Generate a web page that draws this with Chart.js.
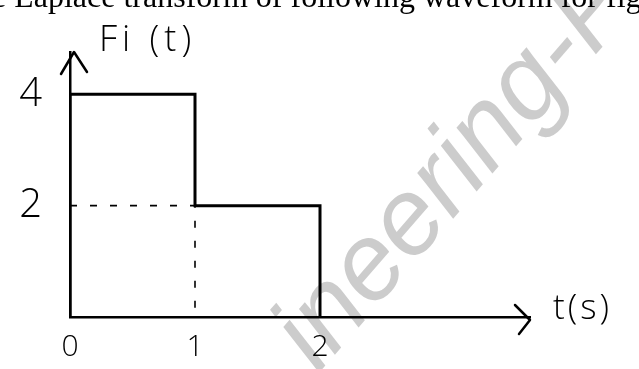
<!DOCTYPE html>
<html>
<head>
<meta charset="utf-8">
<script src="https://cdn.jsdelivr.net/npm/chart.js@4.4.1/dist/chart.umd.min.js"></script>
<style>
  html, body { margin: 0; padding: 0; background: #ffffff; }
  #wrap { width: 639px; height: 369px; position: relative; }
</style>
</head>
<body>
<div id="wrap"><canvas id="c" width="639" height="369"></canvas></div>
<script>
// Waveform Fi(t): step levels over time (seconds)
const waveT = [0, 0, 1, 1, 2, 2];
const waveF = [0, 4, 4, 2, 2, 0];

// Dashed guide lines marking the level 2 and the instant t = 1
const guideT = [0, 1, 1];
const guideF = [2, 2, 0];

// Tick labels
const xTickValues = [0, 1, 2];
const yTickValues = [2, 4];

// Axis captions and heading line
const yCaption = 'Fi (t)';
const xCaption = 't(s)';
const headingText = 'e Laplace transform of following waveform for fig';
const watermarkText = 'ineering-P';

const toPoints = (xs, ys) => xs.map((x, i) => ({ x: x, y: ys[i] }));

const handFont = "'Open Sans', 'DejaVu Sans', sans-serif";

// Background text, arrowheads and captions
const decorations = {
  id: 'decorations',
  beforeDraw(chart) {
    const ctx = chart.ctx;
    ctx.save();
    ctx.fillStyle = '#ffffff';
    ctx.fillRect(0, 0, chart.width, chart.height);
    // watermark
    ctx.translate(318, 374);
    ctx.rotate(-49 * Math.PI / 180);
    ctx.font = "italic 108px 'Liberation Sans', Arial, sans-serif";
    ctx.fillStyle = 'rgba(170,170,170,0.6)';
    ctx.textBaseline = 'alphabetic';
    ctx.fillText(watermarkText, 0, 0);
    ctx.restore();
  },
  afterDraw(chart) {
    const ctx = chart.ctx;
    const xs = chart.scales.x, ys = chart.scales.y;
    const ox = xs.left, oy = ys.bottom;
    ctx.save();
    ctx.strokeStyle = '#000';
    ctx.lineWidth = 2.5;
    ctx.lineCap = 'round';
    ctx.lineJoin = 'round';
    // x-axis arrowhead
    const xe = xs.right;
    ctx.beginPath();
    ctx.moveTo(xe - 15, oy - 12);
    ctx.lineTo(xe, oy + 3);
    ctx.lineTo(xe - 11, oy + 17);
    ctx.stroke();
    // y-axis arrowhead
    const yt = ys.top;
    ctx.beginPath();
    ctx.moveTo(ox - 9, yt + 22);
    ctx.lineTo(ox + 4, yt);
    ctx.lineTo(ox + 17, yt + 20);
    ctx.stroke();
    // captions
    ctx.fillStyle = '#000';
    ctx.textBaseline = 'alphabetic';
    ctx.textAlign = 'left';
    ctx.font = '300 36px ' + handFont;
    ctx.letterSpacing = '5px';
    ctx.fillText(yCaption, 99, 51);
    ctx.font = '300 35px ' + handFont;
    ctx.letterSpacing = '3px';
    ctx.fillText(xCaption, 553, 319);
    ctx.letterSpacing = '0px';
    // heading line
    ctx.font = "32px 'Liberation Serif', 'Times New Roman', serif";
    ctx.fillText(headingText, -8, 7);
    ctx.restore();
  }
};

new Chart(document.getElementById('c'), {
  type: 'line',
  data: {
    datasets: [
      {
        data: toPoints(waveT, waveF),
        borderColor: '#000',
        borderWidth: 3,
        pointRadius: 0,
        tension: 0,
        fill: false
      },
      {
        data: toPoints(guideT, guideF),
        borderColor: '#000',
        borderWidth: 1.6,
        borderDash: [7, 13],
        pointRadius: 0,
        tension: 0,
        fill: false
      }
    ]
  },
  options: {
    responsive: false,
    animation: false,
    events: [],
    layout: { padding: { left: 0, right: 109, top: 42, bottom: 0 } },
    plugins: {
      legend: { display: false },
      tooltip: { enabled: false },
      title: { display: false }
    },
    scales: {
      x: {
        type: 'linear',
        min: 0,
        max: 3.68,
        afterBuildTicks: s => { s.ticks = xTickValues.map(v => ({ value: v })); },
        afterFit: s => { s.height = 46; },
        grid: { display: false, drawTicks: false },
        border: { display: true, color: '#000', width: 2.5 },
        ticks: {
          color: '#000',
          padding: 12,
          maxRotation: 0,
          autoSkip: false,
          font: { family: handFont, size: 30, weight: '300' },
          callback: v => String(v)
        }
      },
      y: {
        type: 'linear',
        min: 0,
        max: 4.76,
        afterBuildTicks: s => { s.ticks = yTickValues.map(v => ({ value: v })); },
        afterFit: s => { s.width = 70; },
        grid: { display: false, drawTicks: false },
        border: { display: true, color: '#000', width: 2.5 },
        ticks: {
          color: '#000',
          padding: 28,
          autoSkip: false,
          font: { family: handFont, size: 40, weight: '300' },
          callback: v => String(v)
        }
      }
    }
  },
  plugins: [decorations]
});
</script>
</body>
</html>
